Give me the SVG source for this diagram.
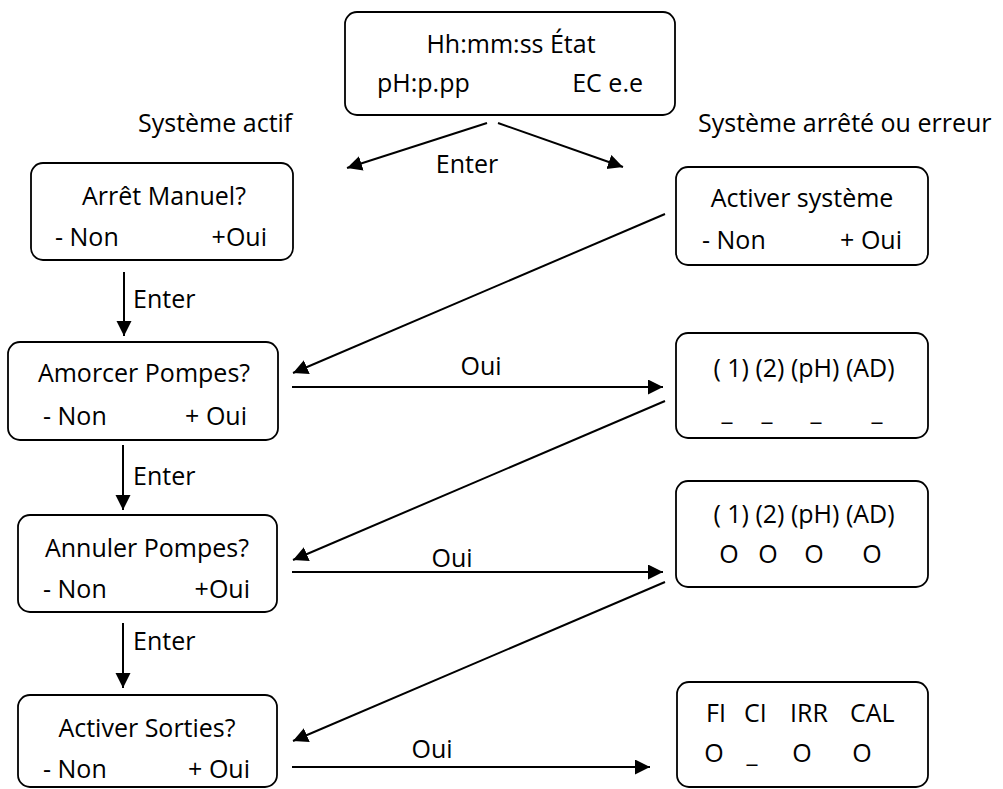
<svg xmlns="http://www.w3.org/2000/svg" width="1003" height="789" viewBox="0 0 1003 789">
<defs>
<marker id="ah" markerUnits="userSpaceOnUse" markerWidth="18" markerHeight="16" refX="15" refY="7.5" orient="auto">
<path d="M0,0 L15,7.5 L0,15 Z" fill="#000"/>
</marker>
<style>
.box{fill:#fff;stroke:#000;stroke-width:1.8}
text{font-family:"Open Sans","Liberation Sans",sans-serif;font-size:25px;fill:#000}
.c{text-anchor:middle}
.e{text-anchor:end}
.ln{stroke:#000;stroke-width:2;fill:none;marker-end:url(#ah)}
</style>
</defs>
<rect width="1003" height="789" fill="#fff"/>

<g id="top">
<rect class="box" x="345" y="12" width="330" height="103" rx="12"/>
<text class="c" x="511" y="53">Hh:mm:ss État</text>
<text x="377" y="92">pH:p.pp</text>
<text class="e" x="643" y="92">EC e.e</text>
</g>

<g id="labels">
<text x="138" y="132">Système actif</text>
<text x="698" y="132">Système arrêté ou erreur</text>
</g>

<g id="arret">
<rect class="box" x="31" y="163" width="262" height="97" rx="12"/>
<text class="c" x="164" y="205">Arrêt Manuel?</text>
<text x="55" y="246">- Non</text>
<text class="e" x="267" y="246">+Oui</text>
</g>

<g id="amorcer">
<rect class="box" x="8" y="342" width="270" height="98" rx="12"/>
<text class="c" x="144" y="382">Amorcer Pompes?</text>
<text x="43" y="425">- Non</text>
<text class="e" x="247" y="425">+ Oui</text>
</g>

<g id="annuler">
<rect class="box" x="18" y="515" width="259" height="97" rx="12"/>
<text class="c" x="147" y="557">Annuler Pompes?</text>
<text x="43" y="598">- Non</text>
<text class="e" x="250" y="598">+Oui</text>
</g>

<g id="sorties">
<rect class="box" x="18" y="695" width="259" height="92" rx="12"/>
<text class="c" x="147" y="737">Activer Sorties?</text>
<text x="43" y="778">- Non</text>
<text class="e" x="250" y="778">+ Oui</text>
</g>

<g id="activer">
<rect class="box" x="676" y="167" width="252" height="98" rx="12"/>
<text class="c" x="802" y="207">Activer système</text>
<text x="702" y="249">- Non</text>
<text class="e" x="902" y="249">+ Oui</text>
</g>

<g id="pompes1">
<rect class="box" x="676" y="333" width="252" height="105" rx="12"/>
<text class="c" x="804" y="377">( 1) (2) (pH) (AD)</text>
<text class="c" y="420"><tspan x="727">_</tspan><tspan x="767">_</tspan><tspan x="816">_</tspan><tspan x="877">_</tspan></text>
</g>

<g id="pompes2">
<rect class="box" x="676" y="481" width="252" height="106" rx="12"/>
<text class="c" x="804" y="523">( 1) (2) (pH) (AD)</text>
<text class="c" y="563"><tspan x="729">O</tspan><tspan x="768">O</tspan><tspan x="814">O</tspan><tspan x="872">O</tspan></text>
</g>

<g id="sorties2">
<rect class="box" x="677" y="682" width="251" height="105" rx="12"/>
<text y="722"><tspan x="706">FI</tspan><tspan x="744">CI</tspan><tspan x="790">IRR</tspan><tspan x="850">CAL</tspan></text>
<text class="c" y="762"><tspan x="714">O</tspan><tspan x="752">_</tspan><tspan x="802">O</tspan><tspan x="862">O</tspan></text>
</g>

<g id="connectors">
<line class="ln" x1="487" y1="123" x2="347" y2="168"/>
<line class="ln" x1="498" y1="123" x2="623" y2="167"/>
<text class="c" x="467" y="173">Enter</text>

<line class="ln" x1="124" y1="272" x2="124" y2="336"/>
<text x="133" y="308">Enter</text>
<line class="ln" x1="123" y1="445" x2="123" y2="510"/>
<text x="133" y="485">Enter</text>
<line class="ln" x1="123" y1="623" x2="123" y2="688"/>
<text x="133" y="650">Enter</text>

<line class="ln" x1="665" y1="214" x2="293" y2="373"/>
<line class="ln" x1="292" y1="387" x2="663" y2="387"/>
<text class="c" x="481" y="375">Oui</text>
<line class="ln" x1="665" y1="401" x2="293" y2="560"/>
<line class="ln" x1="292" y1="572" x2="663" y2="572"/>
<text class="c" x="452" y="567">Oui</text>
<line class="ln" x1="665" y1="582" x2="293" y2="741"/>
<line class="ln" x1="292" y1="767" x2="650" y2="767"/>
<text class="c" x="432" y="758">Oui</text>
</g>
</svg>
